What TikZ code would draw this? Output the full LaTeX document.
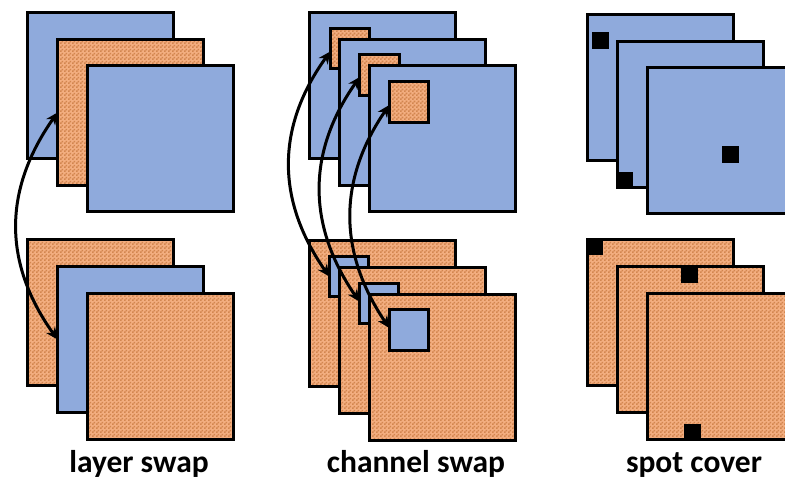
\documentclass[tikz,border=0pt]{standalone}
\usepackage{fontspec}
\setmainfont{Carlito}
\usetikzlibrary{patterns,arrows.meta}
\pgfdeclarepatternformonly{mycheck}{\pgfqpoint{0pt}{0pt}}{\pgfqpoint{4pt}{4pt}}{\pgfqpoint{4pt}{4pt}}{%
  \pgfpathrectangle{\pgfqpoint{0pt}{0pt}}{\pgfqpoint{2pt}{2pt}}%
  \pgfpathrectangle{\pgfqpoint{2pt}{2pt}}{\pgfqpoint{2pt}{2pt}}%
  \pgfusepath{fill}}
\definecolor{bluef}{HTML}{8FAADC}
\definecolor{orbase}{HTML}{F3AE80}
\definecolor{ordark}{HTML}{D2864F}
\tikzset{
  sq/.style={draw=black, line width=3pt, minimum size=146pt, inner sep=0pt, outer sep=0pt},
  bsq/.style={sq, fill=bluef},
  osq/.style={sq, preaction={fill=orbase}, pattern=mycheck, pattern color=ordark},
  small/.style={draw=black, line width=3pt, minimum width=39.5pt, minimum height=40.5pt, inner sep=0pt, outer sep=0pt},
  bsmall/.style={small, fill=bluef},
  osmall/.style={small, preaction={fill=orbase}, pattern=mycheck, pattern color=ordark},
  spot/.style={fill=black, minimum size=17pt, inner sep=0pt, outer sep=0pt},
  arr/.style={line width=3pt, {Stealth[length=12pt,width=11pt]}-{Stealth[length=12pt,width=11pt]}},
  lbl/.style={font=\bfseries\fontsize{31.5}{36}\selectfont, anchor=base, inner sep=0pt}
}
\begin{document}
\begin{tikzpicture}[x=1pt,y=-1pt]
\useasboundingbox (0,0) rectangle (785,480);
\clip (0,0) rectangle (785,480);
% layer swap
\node[bsq] (lt1) at (100.5,85.5) {};
\node[osq] (lt2) at (130.5,112.5) {};
\node[bsq] (lt3) at (160.5,138.5) {};
\node[osq] (lb1) at (100.5,312.5) {};
\node[bsq] (lb2) at (130.5,339.5) {};
\node[osq] (lb3) at (160.5,366.5) {};
\draw[arr] (lt2.west) .. controls (3,190) and (3,263) .. (lb2.west);
\node[lbl] (l1) at (139,472) {layer swap};
% channel swap
\node[bsq] (ct1) at (382.5,85.5) {};
\node[osmall] (cs1) at (350,48.5) {};
\node[bsq] (ct2) at (412.5,112.5) {};
\node[osmall] (cs2) at (379.5,75) {};
\node[bsq] (ct3) at (442.5,138.5) {};
\node[osmall] (cs3) at (409,102) {};
\node[osq] (cb1) at (382.5,313.5) {};
\node[bsmall] (cd1) at (349,276.5) {};
\node[osq] (cb2) at (412.5,340.5) {};
\node[bsmall] (cd2) at (379,303.5) {};
\node[osq] (cb3) at (442.5,367.5) {};
\node[bsmall] (cd3) at (409,330) {};
\draw[arr] ([yshift=-3pt]cs1.west) .. controls (276,127) and (276,200) .. (cd1.west);
\draw[arr] ([yshift=-2pt]cs2.west) .. controls (307,152) and (307,225) .. ([yshift=2pt]cd2.west);
\draw[arr] ([yshift=-3pt]cs3.west) .. controls (338,180) and (338,252) .. ([yshift=2pt]cd3.west);
\node[lbl] (l2) at (416,472) {channel swap};
% spot cover
\node[bsq] (st1) at (660.5,87.5) {};
\node[spot] (sp1) at (600.5,40.5) {};
\node[bsq] (st2) at (690.5,114.5) {};
\node[spot] (sp2) at (624,180) {};
\node[bsq] (st3) at (720.5,140.5) {};
\node[spot] (sp3) at (730.5,154.5) {};
\node[osq] (sb1) at (660.5,312.5) {};
\node[spot] (sq1) at (594.5,246.5) {};
\node[osq] (sb2) at (690.5,339.5) {};
\node[spot] (sq2) at (689.5,274) {};
\node[osq] (sb3) at (720.5,366.5) {};
\node[spot] (sq3) at (692.5,432.5) {};
\node[lbl] (l3) at (694,472) {spot cover};
\end{tikzpicture}
\end{document}
